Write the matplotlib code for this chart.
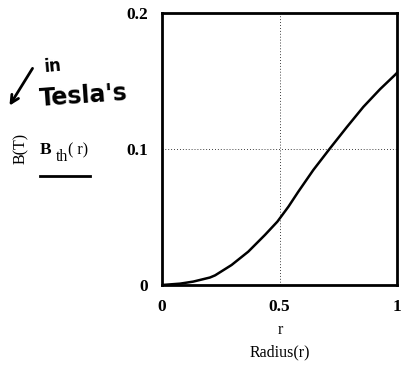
import numpy as np
import matplotlib
matplotlib.use('Agg')
import matplotlib.pyplot as plt

# values
radius = [0.0, 0.077, 0.133, 0.204, 0.226, 0.296, 0.367, 0.438, 0.491, 0.538,
          0.580, 0.644, 0.715, 0.786, 0.857, 0.928, 0.991, 1.0]
b_th = [0.0, 0.0010, 0.0025, 0.0055, 0.0071, 0.0147, 0.0245, 0.0368, 0.0466, 0.0576,
        0.0686, 0.0846, 0.1005, 0.1160, 0.1310, 0.1440, 0.1544, 0.156]
x_ticks = [0, 0.5, 1]
x_tick_labels = ['0', '0.5', '1']
y_ticks = [0, 0.1, 0.2]
y_tick_labels = ['0', '0.1', '0.2']

plt.rcParams['font.family'] = ['Liberation Serif', 'DejaVu Serif']

fig = plt.figure(figsize=(4.05, 3.76), dpi=100)
W, H = 405, 376
ax = fig.add_axes([162 / W, 1 - 285 / H, 235 / W, 272 / H])

ax.plot(radius, b_th, color='black', lw=1.8, solid_joinstyle='round')
ax.set_xlim(0, 1)
ax.set_ylim(0, 0.2)

# dotted gridlines at the middle ticks
ax.axvline(0.5, color='black', lw=0.6, ls=(0, (1, 2.5)))
ax.axhline(0.1, color='black', lw=0.6, ls=(0, (1, 2.5)))

ax.set_xticks(x_ticks)
ax.set_xticklabels(x_tick_labels, fontsize=12.5, fontweight='bold')
ax.set_yticks(y_ticks)
ax.set_yticklabels(y_tick_labels, fontsize=12.5, fontweight='bold')
ax.tick_params(length=0, pad=10)
for s in ax.spines.values():
    s.set_linewidth(2)

# axis labels
fig.text(280 / W, 1 - 330 / H, 'r', ha='center', va='center', fontsize=11.5)
fig.text(280 / W, 1 - 352 / H, 'Radius(r)', ha='center', va='center', fontsize=11.5)
fig.text(21 / W, 1 - 148 / H, 'B(T)', rotation=90, ha='center', va='center', fontsize=11.5)
fig.text(40 / W, 1 - 150 / H, 'B', ha='left', va='center', fontsize=12.5, fontweight='bold')
fig.text(56 / W, 1 - 157 / H, 'th', ha='left', va='center', fontsize=11.5)
fig.text(68 / W, 1 - 150 / H, '( r)', ha='left', va='center', fontsize=11.5)
fig.add_artist(plt.Line2D([40 / W, 90 / W], [1 - 176 / H, 1 - 176 / H], color='black', lw=2))

# handwritten note
fig.text(53 / W, 1 - 66 / H, 'in', ha='center', va='center', fontsize=12,
         fontweight='bold', family='DejaVu Sans', rotation=5)
fig.text(84 / W, 1 - 96 / H, "Tesla's", ha='center', va='center', fontsize=17,
         fontweight='bold', family='DejaVu Sans', rotation=4)
fig.add_artist(matplotlib.patches.FancyArrowPatch(
    (34 / W, 1 - 66 / H), (8 / W, 1 - 108 / H), transform=fig.transFigure,
    arrowstyle='->', mutation_scale=14, lw=2, color='black'))

fig.savefig('out.png', dpi=100)
